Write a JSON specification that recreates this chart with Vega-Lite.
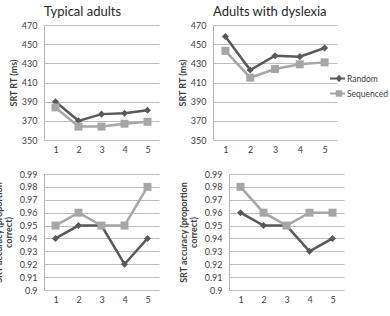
{
  "$schema": "https://vega.github.io/schema/vega-lite/v6.json",
  "padding": {"left": -6, "top": 6, "right": 0, "bottom": 0},
  "background": "white",
  "config": {
    "font": "Lato",
    "view": {"stroke": null},
    "title": {"fontSize": 13, "fontWeight": "normal", "color": "#262626", "anchor": "start", "frame": "group", "offset": 2},
    "axisX": {"domain": false, "ticks": false, "grid": false, "labelAngle": 0, "labelFontSize": 9, "labelColor": "#404040", "labelPadding": 5, "title": null},
    "axisY": {"domainColor": "#b4b4b4", "ticks": false, "gridColor": "#bdbdbd", "labelFontSize": 9, "labelColor": "#404040", "labelPadding": 7, "titleFontSize": 9, "titleFontWeight": "bold", "titleColor": "#404040", "titleLineHeight": 10}
  },
  "data": {
    "values": [
      {"panel": "rt_typ", "block": "1", "condition": "Random", "value": 390},
      {"panel": "rt_typ", "block": "2", "condition": "Random", "value": 370},
      {"panel": "rt_typ", "block": "3", "condition": "Random", "value": 377},
      {"panel": "rt_typ", "block": "4", "condition": "Random", "value": 378},
      {"panel": "rt_typ", "block": "5", "condition": "Random", "value": 381},
      {"panel": "rt_typ", "block": "1", "condition": "Sequenced", "value": 384},
      {"panel": "rt_typ", "block": "2", "condition": "Sequenced", "value": 364},
      {"panel": "rt_typ", "block": "3", "condition": "Sequenced", "value": 364},
      {"panel": "rt_typ", "block": "4", "condition": "Sequenced", "value": 367},
      {"panel": "rt_typ", "block": "5", "condition": "Sequenced", "value": 369},
      {"panel": "rt_dys", "block": "1", "condition": "Random", "value": 458},
      {"panel": "rt_dys", "block": "2", "condition": "Random", "value": 423},
      {"panel": "rt_dys", "block": "3", "condition": "Random", "value": 438},
      {"panel": "rt_dys", "block": "4", "condition": "Random", "value": 437},
      {"panel": "rt_dys", "block": "5", "condition": "Random", "value": 446},
      {"panel": "rt_dys", "block": "1", "condition": "Sequenced", "value": 443},
      {"panel": "rt_dys", "block": "2", "condition": "Sequenced", "value": 415},
      {"panel": "rt_dys", "block": "3", "condition": "Sequenced", "value": 424},
      {"panel": "rt_dys", "block": "4", "condition": "Sequenced", "value": 429},
      {"panel": "rt_dys", "block": "5", "condition": "Sequenced", "value": 431},
      {"panel": "acc_typ", "block": "1", "condition": "Random", "value": 0.94},
      {"panel": "acc_typ", "block": "2", "condition": "Random", "value": 0.95},
      {"panel": "acc_typ", "block": "3", "condition": "Random", "value": 0.95},
      {"panel": "acc_typ", "block": "4", "condition": "Random", "value": 0.92},
      {"panel": "acc_typ", "block": "5", "condition": "Random", "value": 0.94},
      {"panel": "acc_typ", "block": "1", "condition": "Sequenced", "value": 0.95},
      {"panel": "acc_typ", "block": "2", "condition": "Sequenced", "value": 0.96},
      {"panel": "acc_typ", "block": "3", "condition": "Sequenced", "value": 0.95},
      {"panel": "acc_typ", "block": "4", "condition": "Sequenced", "value": 0.95},
      {"panel": "acc_typ", "block": "5", "condition": "Sequenced", "value": 0.98},
      {"panel": "acc_dys", "block": "1", "condition": "Random", "value": 0.96},
      {"panel": "acc_dys", "block": "2", "condition": "Random", "value": 0.95},
      {"panel": "acc_dys", "block": "3", "condition": "Random", "value": 0.95},
      {"panel": "acc_dys", "block": "4", "condition": "Random", "value": 0.93},
      {"panel": "acc_dys", "block": "5", "condition": "Random", "value": 0.94},
      {"panel": "acc_dys", "block": "1", "condition": "Sequenced", "value": 0.98},
      {"panel": "acc_dys", "block": "2", "condition": "Sequenced", "value": 0.96},
      {"panel": "acc_dys", "block": "3", "condition": "Sequenced", "value": 0.95},
      {"panel": "acc_dys", "block": "4", "condition": "Sequenced", "value": 0.96},
      {"panel": "acc_dys", "block": "5", "condition": "Sequenced", "value": 0.96}
    ]
  },
  "spacing": 16,
  "resolve": {"scale": {"color": "independent"}, "legend": {"color": "independent"}},
  "vconcat": [
    {
      "bounds": "flush",
      "spacing": 54,
      "resolve": {"scale": {"color": "independent"}, "legend": {"color": "independent"}},
      "hconcat": [
        {
          "title": "Typical adults",
          "width": 115,
          "height": 115,
          "transform": [{"filter": "datum.panel === 'rt_typ'"}],
          "encoding": {
            "x": {"field": "block", "type": "ordinal", "scale": {"type": "point", "padding": 0.5}},
            "y": {"field": "value", "type": "quantitative", "scale": {"domain": [350, 470], "nice": false}, "axis": {"values": [350, 370, 390, 410, 430, 450, 470], "title": "SRT RT (ms)", "titlePadding": 3}}
          },
          "layer": [
            {"mark": {"type": "line", "strokeWidth": 2.5}, "encoding": {"color": {"field": "condition", "type": "nominal", "scale": {"domain": ["Random", "Sequenced"], "range": ["#595959", "#a6a6a6"]}, "legend": null}}},
            {"transform": [{"filter": "datum.condition === 'Random'"}], "mark": {"type": "point", "shape": "diamond", "size": 50, "filled": true, "opacity": 1, "color": "#595959"}},
            {"transform": [{"filter": "datum.condition === 'Sequenced'"}], "mark": {"type": "point", "shape": "square", "size": 64, "filled": true, "opacity": 1, "color": "#a6a6a6"}}
          ]
        },
        {
          "title": "Adults with dyslexia",
          "width": 124,
          "height": 115,
          "transform": [{"filter": "datum.panel === 'rt_dys'"}],
          "encoding": {
            "x": {"field": "block", "type": "ordinal", "scale": {"type": "point", "padding": 0.5}},
            "y": {"field": "value", "type": "quantitative", "scale": {"domain": [350, 470], "nice": false}, "axis": {"values": [350, 370, 390, 410, 430, 450, 470], "title": "SRT RT (ms)", "titlePadding": 3}}
          },
          "layer": [
            {"mark": {"type": "line", "strokeWidth": 2.5}, "encoding": {"color": {"field": "condition", "type": "nominal", "scale": {"domain": ["Random", "Sequenced"], "range": ["#595959", "#a6a6a6"]},
              "legend": {
                "title": null, "orient": "none", "legendX": 116, "legendY": 45, "padding": 0,
                "symbolSize": 225, "symbolStrokeWidth": 2, "rowPadding": 0, "labelOffset": 1,
                "labelFontSize": 8.5, "labelColor": "#404040",
                "encode": {"symbols": {"update": {
                  "shape": {"signal": "datum.value === 'Random' ? 'M-1,0L1,0M0.2,-0.3L0.45,0L0.2,0.3L-0.05,0Z' : 'M-1,0L1,0M-0.1,-0.3L0.5,-0.3L0.5,0.3L-0.1,0.3Z'"},
                  "fill": {"signal": "datum.value === 'Random' ? '#595959' : '#a6a6a6'"},
                  "stroke": {"signal": "datum.value === 'Random' ? '#595959' : '#a6a6a6'"},
                  "opacity": {"value": 1}
                }}}
              }
            }}},
            {"transform": [{"filter": "datum.condition === 'Random'"}], "mark": {"type": "point", "shape": "diamond", "size": 50, "filled": true, "opacity": 1, "color": "#595959"}},
            {"transform": [{"filter": "datum.condition === 'Sequenced'"}], "mark": {"type": "point", "shape": "square", "size": 64, "filled": true, "opacity": 1, "color": "#a6a6a6"}}
          ]
        }
      ]
    },
    {
      "bounds": "flush",
      "spacing": 70,
      "resolve": {"scale": {"color": "independent"}, "legend": {"color": "independent"}},
      "hconcat": [
        {
          "width": 115,
          "height": 116,
          "transform": [{"filter": "datum.panel === 'acc_typ'"}],
          "encoding": {
            "x": {"field": "block", "type": "ordinal", "scale": {"type": "point", "padding": 0.5}},
            "y": {"field": "value", "type": "quantitative", "scale": {"domain": [0.9, 0.99], "nice": false, "zero": false}, "axis": {"values": [0.9, 0.91, 0.92, 0.93, 0.94, 0.95, 0.96, 0.97, 0.98, 0.99], "format": ".2~f", "title": ["SRT accuracy (proportion", "correct)"], "titlePadding": 6}}
          },
          "layer": [
            {"mark": {"type": "line", "strokeWidth": 2.5}, "encoding": {"color": {"field": "condition", "type": "nominal", "scale": {"domain": ["Random", "Sequenced"], "range": ["#595959", "#a6a6a6"]}, "legend": null}}},
            {"transform": [{"filter": "datum.condition === 'Random'"}], "mark": {"type": "point", "shape": "diamond", "size": 50, "filled": true, "opacity": 1, "color": "#595959"}},
            {"transform": [{"filter": "datum.condition === 'Sequenced'"}], "mark": {"type": "point", "shape": "square", "size": 64, "filled": true, "opacity": 1, "color": "#a6a6a6"}}
          ]
        },
        {
          "width": 115,
          "height": 116,
          "transform": [{"filter": "datum.panel === 'acc_dys'"}],
          "encoding": {
            "x": {"field": "block", "type": "ordinal", "scale": {"type": "point", "padding": 0.5}},
            "y": {"field": "value", "type": "quantitative", "scale": {"domain": [0.9, 0.99], "nice": false, "zero": false}, "axis": {"values": [0.9, 0.91, 0.92, 0.93, 0.94, 0.95, 0.96, 0.97, 0.98, 0.99], "format": ".2~f", "title": ["SRT accuracy (proportion", "correct)"], "titlePadding": 6}}
          },
          "layer": [
            {"mark": {"type": "line", "strokeWidth": 2.5}, "encoding": {"color": {"field": "condition", "type": "nominal", "scale": {"domain": ["Random", "Sequenced"], "range": ["#595959", "#a6a6a6"]}, "legend": null}}},
            {"transform": [{"filter": "datum.condition === 'Random'"}], "mark": {"type": "point", "shape": "diamond", "size": 50, "filled": true, "opacity": 1, "color": "#595959"}},
            {"transform": [{"filter": "datum.condition === 'Sequenced'"}], "mark": {"type": "point", "shape": "square", "size": 64, "filled": true, "opacity": 1, "color": "#a6a6a6"}}
          ]
        }
      ]
    }
  ]
}
